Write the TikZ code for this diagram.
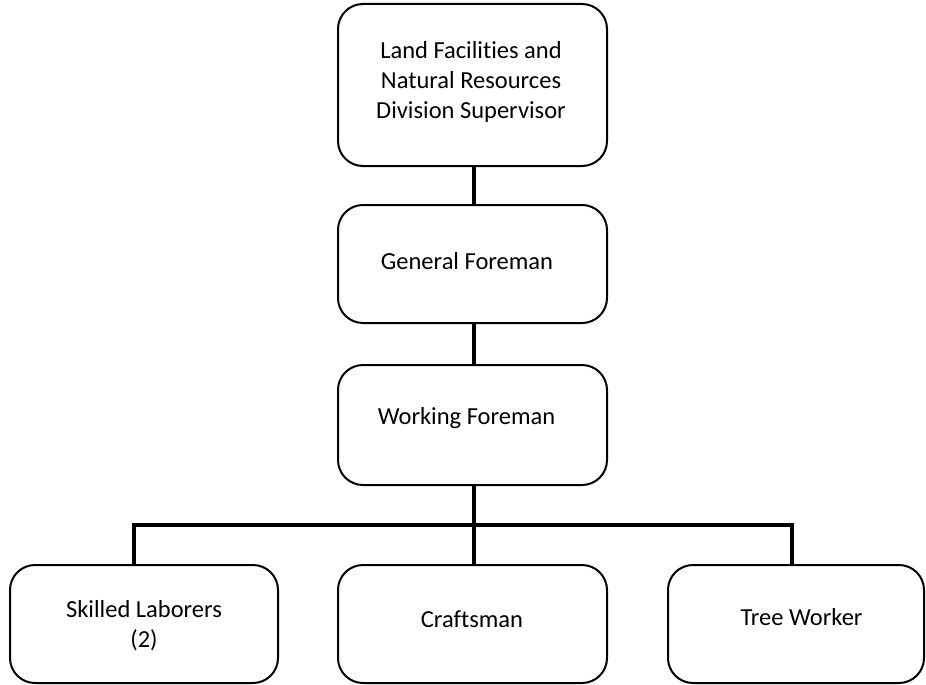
\documentclass[tikz,border=0pt]{standalone}
\usepackage{fontspec}
\setmainfont[RawFeature=-liga]{Carlito}
\begin{document}
\begin{tikzpicture}[x=1pt,y=-1pt,
  box/.style={draw=black, line width=2pt, rounded corners=25pt, fill=white,
    inner sep=0pt, outer sep=0pt, minimum width=269pt},
  label/.style={font=\fontsize{24.5pt}{30pt}\selectfont, align=center, inner sep=0pt},
  wire/.style={draw=black, line width=3.2pt}]
  \useasboundingbox (0,0) rectangle (926,685);

  % boxes
  \node[box, minimum height=162pt] (sup) at (472.5,85) {};
  \node[box, minimum height=118pt] (gf) at (472.5,264) {};
  \node[box, minimum height=120pt] (wf) at (472.5,425) {};
  \node[box, minimum height=118pt, minimum width=268pt] (sl) at (144,624) {};
  \node[box, minimum height=118pt] (cr) at (472.5,624) {};
  \node[box, minimum height=118pt, minimum width=256pt] (tw) at (796,624) {};

  % connectors
  \coordinate (bus) at (474,525);
  \draw[wire] ([xshift=1.5pt]sup.south) -- ([xshift=1.5pt]gf.north);
  \draw[wire] ([xshift=1.5pt]gf.south) -- ([xshift=1.5pt]wf.north);
  \draw[wire] ([xshift=1.5pt]wf.south) -- (bus);
  \draw[wire] (bus) -- ([xshift=1.5pt]cr.north);
  \draw[wire] ([xshift=-10pt]sl.north) |- (bus) -| ([xshift=-4pt]tw.north);

  % titles
  \node[label] (supT) at (471,82) {Land Facilities and\\Natural Resources\\Division Supervisor};
  \node[label] (gfT) at (467,261) {General Foreman};
  \node[label] (wfT) at (466.5,418) {Working Foreman};
  \node[label] (slT) at (144,626) {Skilled Laborers\\(2)};
  \node[label] (crT) at (472,619) {Craftsman};
  \node[label] (twT) at (801.5,617) {Tree Worker};
\end{tikzpicture}
\end{document}
